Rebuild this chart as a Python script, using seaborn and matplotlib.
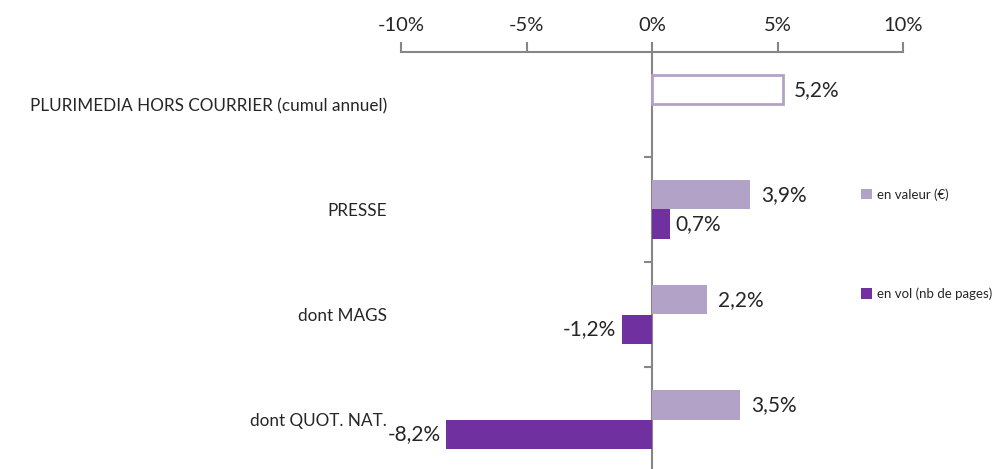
import numpy as np
import pandas as pd
import seaborn as sns
import matplotlib.pyplot as plt
from matplotlib.ticker import FuncFormatter

categories = ["PLURIMEDIA HORS COURRIER (cumul annuel)", "PRESSE", "dont MAGS", "dont QUOT. NAT."]
series = ["en valeur (€)", "en vol (nb de pages)"]
valeur = [5.2, 3.9, 2.2, 3.5]
volume = [np.nan, 0.7, -1.2, -8.2]
x_ticks = [-10, -5, 0, 5, 10]

LIGHT = "#B3A2C7"
DARK = "#7030A0"
GRAY = "#868686"

sns.set_style("white")
plt.rcParams["font.family"] = ["Lato", "DejaVu Sans"]

df = pd.DataFrame({
    "cat": categories * 2,
    "serie": [series[0]] * len(categories) + [series[1]] * len(categories),
    "val": valeur + volume,
})

fig = plt.figure(figsize=(9.99, 4.69), dpi=100)
ax = fig.add_axes([401 / 999, -3 / 469, 502 / 999, 420 / 469])

sns.barplot(data=df, y="cat", x="val", hue="serie", order=categories,
            hue_order=series, palette=[LIGHT, DARK], width=0.56,
            orient="h", saturation=1, errorbar=None, ax=ax, legend=True,
            linewidth=0)

# first bar: white with outline
first = ax.containers[0].patches[0]
first.set_facecolor("white")
first.set_edgecolor(LIGHT)
first.set_linewidth(2)

def fmt(v):
    return f"{v:.1f}%".replace(".", ",")

for cont, pad in zip(ax.containers, [8, 4]):
    vals = [p.get_width() for p in cont.patches]
    ax.bar_label(cont, labels=[fmt(v) for v in vals], padding=pad, fontsize=15)

ax.set_xlim(-10, 10)
ax.set_ylim(len(categories) - 0.5, -0.5)
ax.xaxis.tick_top()
ax.set_xticks(x_ticks)
ax.xaxis.set_major_formatter(FuncFormatter(lambda v, p: f"{v:.0f}%"))
ax.tick_params(axis="x", direction="out", length=7, width=1.5, color=GRAY,
               labelsize=14.5, pad=6)
ax.set_xlabel("")
ax.set_ylabel("")
ax.tick_params(axis="y", length=0, labelsize=12.3, pad=10)

for s in ["left", "right", "bottom"]:
    ax.spines[s].set_visible(False)
ax.spines["top"].set_color(GRAY)
ax.spines["top"].set_linewidth(1.5)

# vertical zero axis with category boundary ticks
sec = ax.secondary_yaxis(0.4999)
sec.set_yticks([i + 0.5 for i in range(len(categories) - 1)])
sec.set_yticklabels([])
sec.tick_params(axis="y", length=6, width=1.5, color=GRAY, direction="out")
for s in sec.spines.values():
    s.set_color(GRAY)
    s.set_linewidth(1.5)

sns.move_legend(ax, loc="upper left", bbox_to_anchor=(861 / 999, 1 - 188 / 469),
                bbox_transform=fig.transFigure, frameon=False, fontsize=9.5,
                labelspacing=6.6, handlelength=0.85, handleheight=0.85,
                handletextpad=0.4, title=None, borderpad=0, borderaxespad=0)

fig.savefig("out.png", dpi=100)
